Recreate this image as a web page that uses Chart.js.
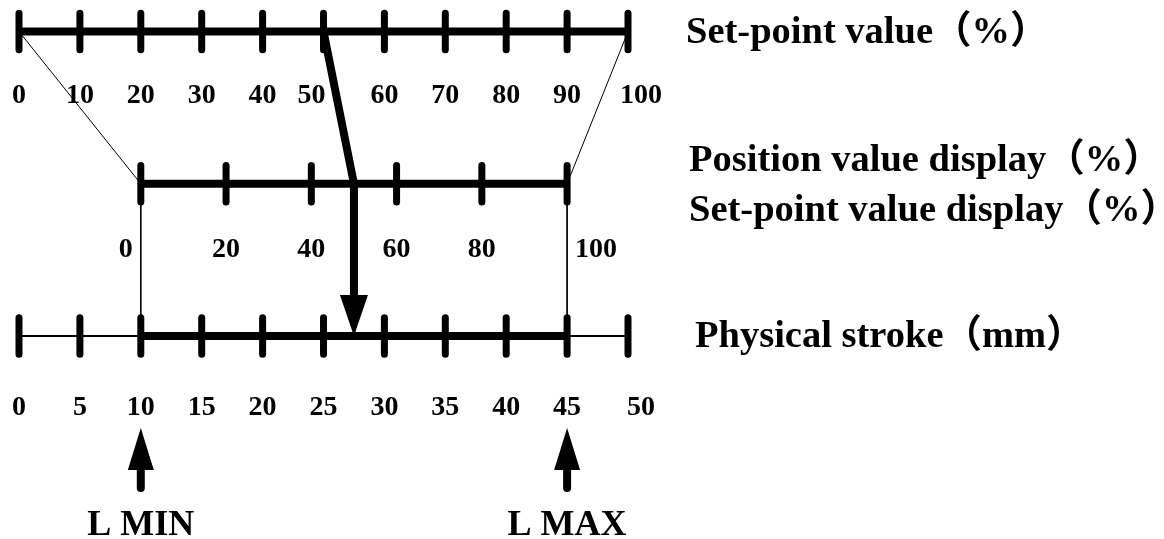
<!DOCTYPE html>
<html>
<head>
<meta charset="utf-8">
<script src="https://cdn.jsdelivr.net/npm/chart.js@4"></script>
<style>
body{margin:0;background:#fff}
#wrap{width:1164px;height:539px;position:relative}
</style>
</head>
<body>
<div id="wrap"><canvas id="myChart"></canvas></div>
<script>
// values
var strokeTicks = [0,5,10,15,20,25,30,35,40,45,50];      // mm
var setpointTicks = [0,10,20,30,40,50,60,70,80,90,100];  // %
var displayTicks = [0,20,40,60,80,100];                  // %
var strokeMax = 50;
var lMin = 10, lMax = 45;   // mm
var setpoint = 50;          // %
var rowTitles = ['Set-point value（%）','Position value display（%）','Set-point value display（%）','Physical stroke（mm）'];
var limitLabels = ['L MIN','L MAX'];

// row levels on the y scale
var ROW_SET = 3, ROW_DISP = 2, ROW_STROKE = 1;
var TICK_H = 0.12;
var HEAD = 0.27;

function setpointToMm(p){ return p/100*strokeMax; }
function displayToMm(p){ return lMin + p/100*(lMax-lMin); }
function strokeToMm(v){ return v; }

function tickSegs(vals, toMm, row){
  var pts = [];
  vals.forEach(function(v){
    pts.push({x: toMm(v), y: row - TICK_H});
    pts.push({x: toMm(v), y: row + TICK_H});
    pts.push({x: toMm(v), y: null});
  });
  return pts;
}

function line(data, w, cap){
  return {data: data, showLine: true, borderColor: '#000', borderWidth: w, pointRadius: 0,
    borderCapStyle: cap || 'butt', borderJoinStyle: 'round', spanGaps: false, clip: false, fill: false};
}

var datasets = [
  line([{x:setpointToMm(0),y:ROW_SET},{x:displayToMm(0),y:ROW_DISP},{x:lMin,y:ROW_STROKE}], 1),
  line([{x:setpointToMm(100),y:ROW_SET},{x:displayToMm(100),y:ROW_DISP},{x:lMax,y:ROW_STROKE}], 1),
  line([{x:setpointToMm(0),y:ROW_SET},{x:setpointToMm(100),y:ROW_SET}], 8),
  line(tickSegs(setpointTicks, setpointToMm, ROW_SET), 7, 'round'),
  line([{x:displayToMm(0),y:ROW_DISP},{x:displayToMm(100),y:ROW_DISP}], 8),
  line(tickSegs(displayTicks, displayToMm, ROW_DISP), 7, 'round'),
  line([{x:0,y:ROW_STROKE},{x:strokeMax,y:ROW_STROKE}], 2),
  line([{x:lMin,y:ROW_STROKE},{x:lMax,y:ROW_STROKE}], 8),
  line(tickSegs(strokeTicks, strokeToMm, ROW_STROKE), 7, 'round'),
  line([{x:setpointToMm(setpoint),y:ROW_SET},{x:displayToMm(setpoint),y:ROW_DISP},
        {x:displayToMm(setpoint),y:ROW_STROKE + HEAD - 0.02}], 8)
];

var labelRows = [
  {ticks: setpointTicks, toMm: setpointToMm, row: ROW_SET, dy: 71.5, nudge: {50:-12, 100:13}},
  {ticks: displayTicks, toMm: displayToMm, row: ROW_DISP, dy: 73, nudge: {0:-15, 100:29}},
  {ticks: strokeTicks, toMm: strokeToMm, row: ROW_STROKE, dy: 79, nudge: {50:13}}
];

var overlay = {
  id: 'overlay',
  afterDatasetsDraw: function(chart){
    var ctx = chart.ctx, xs = chart.scales.x, ys = chart.scales.y;
    var X = function(v){ return xs.getPixelForValue(v); };
    var Y = function(v){ return ys.getPixelForValue(v); };
    ctx.save();
    ctx.fillStyle = '#000';
    ctx.strokeStyle = '#000';

    // head of the set-point arrow
    var ax = X(displayToMm(setpoint)), tipY = Y(ROW_STROKE), baseY = Y(ROW_STROKE + HEAD);
    ctx.beginPath();
    ctx.moveTo(ax - 14, baseY); ctx.lineTo(ax + 14, baseY); ctx.lineTo(ax, tipY);
    ctx.closePath(); ctx.fill();

    // L MIN / L MAX arrows and labels
    [lMin, lMax].forEach(function(v, i){
      var x = X(v), y0 = Y(ROW_STROKE);
      ctx.beginPath();
      ctx.moveTo(x, y0 + 92); ctx.lineTo(x + 13, y0 + 134); ctx.lineTo(x - 13, y0 + 134);
      ctx.closePath(); ctx.fill();
      ctx.lineWidth = 8; ctx.lineCap = 'round';
      ctx.beginPath(); ctx.moveTo(x, y0 + 130); ctx.lineTo(x, y0 + 152); ctx.stroke();
      ctx.font = 'bold 36px "Liberation Serif"';
      ctx.textAlign = 'center'; ctx.textBaseline = 'alphabetic';
      ctx.fillText(limitLabels[i], x, y0 + 199);
    });

    // tick labels
    ctx.font = 'bold 28px "Liberation Serif"';
    ctx.textAlign = 'center'; ctx.textBaseline = 'alphabetic';
    labelRows.forEach(function(r){
      r.ticks.forEach(function(v){
        ctx.fillText(String(v), X(r.toMm(v)) + (r.nudge[v] || 0), Y(r.row) + r.dy);
      });
    });

    // row titles
    var right = chart.chartArea.right;
    ctx.font = 'bold 38.5px "Liberation Serif", "Noto Sans CJK SC"';
    ctx.textAlign = 'left';
    ctx.fillText(rowTitles[0], right + 58, Y(ROW_SET) + 11);
    ctx.fillText(rowTitles[1], right + 61, Y(ROW_DISP) - 13);
    ctx.fillText(rowTitles[2], right + 61, Y(ROW_DISP) + 37);
    ctx.fillText(rowTitles[3], right + 67, Y(ROW_STROKE) + 11);
    ctx.restore();
  }
};

new Chart('myChart', {
  type: 'scatter',
  data: {datasets: datasets},
  options: {
    responsive: true,
    maintainAspectRatio: false,
    animation: false,
    events: [],
    layout: {padding: {left: 19, right: 536, top: 0, bottom: 0}},
    plugins: {legend: {display: false}, tooltip: {enabled: false}},
    scales: {
      x: {type: 'linear', min: 0, max: strokeMax, display: false},
      y: {type: 'linear', min: -0.333, max: 3.207, display: false}
    }
  },
  plugins: [overlay]
});
</script>
</body>
</html>
